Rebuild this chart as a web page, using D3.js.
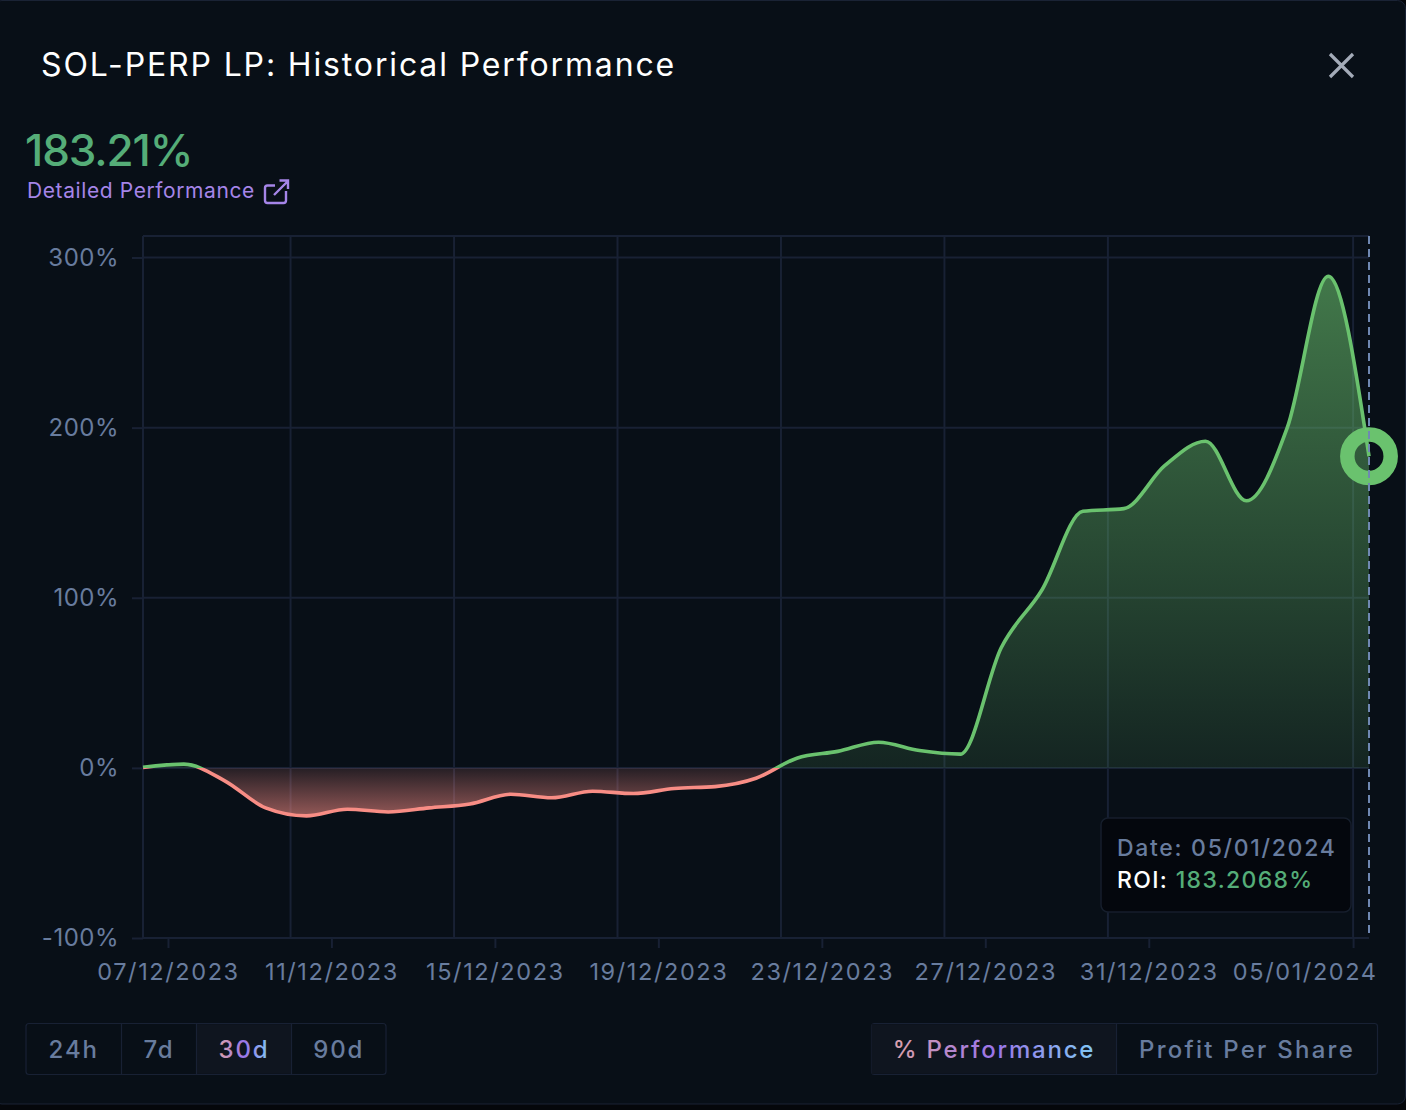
<!DOCTYPE html>
<html>
<head>
<meta charset="utf-8">
<script src="https://cdn.jsdelivr.net/npm/d3@7"></script>
<style>
  html, body { margin: 0; padding: 0; background: #05070b; }
  svg { display: block; }
  text { font-family: Inter, "Noto Sans", sans-serif; }
</style>
</head>
<body>
<div id="chart"></div>
<script>
var days = ["2023-12-06","2023-12-07","2023-12-08","2023-12-09","2023-12-10","2023-12-11","2023-12-12",
  "2023-12-13","2023-12-14","2023-12-15","2023-12-16","2023-12-17","2023-12-18","2023-12-19","2023-12-20",
  "2023-12-21","2023-12-22","2023-12-23","2023-12-24","2023-12-25","2023-12-26","2023-12-27","2023-12-28",
  "2023-12-29","2023-12-30","2023-12-31","2024-01-01","2024-01-02","2024-01-03","2024-01-04","2024-01-05"];
var roi = [0.3, 2.2, -7.6, -23.5, -28.2, -24.3, -25.9, -23.5, -21.2, -15.5, -17.6, -13.7, -15.1, -12.1, -11,
  -6.1, 5.7, 9.7, 15.1, 10.2, 8.1, 70.6, 104.7, 150.8, 152.4, 177.6, 192, 157, 200, 289, 183.2068];
var tickDays = ["2023-12-07","2023-12-11","2023-12-15","2023-12-19","2023-12-23","2023-12-27","2023-12-31","2024-01-05"];
var gridDays = ["2023-12-10","2023-12-14","2023-12-18","2023-12-22","2023-12-26","2023-12-30","2024-01-05"];
var yTicks = [-100, 0, 100, 200, 300];
var rangeButtons = ["24h", "7d", "30d", "90d"];
var modeButtons = ["% Performance", "Profit Per Share"];

var W = 1406, H = 1110;
var left = 143, right = 1369, top_ = 236, bottom = 938;
var parseDay = d3.timeParse("%Y-%m-%d");
var parseStamp = d3.timeParse("%Y-%m-%d %H:%M");
var fmt = d3.timeFormat("%d/%m/%Y");

var dataPoints = days.map(function (d, i) {
  return { t: parseStamp(d + " 09:20"), v: roi[i] };
});

var x = d3.scaleTime()
  .domain([dataPoints[0].t, dataPoints[dataPoints.length - 1].t])
  .range([left, right]);
var y = d3.scaleLinear().domain([-100, 300]).range([bottom, 257.5]);

var gridColor = "#182134", tickColor = "#687c9e";

var svg = d3.select("#chart").append("svg").attr("width", W).attr("height", H);
var defs = svg.append("defs");

// panel
svg.append("rect").attr("x", -6).attr("y", 0.5).attr("width", W + 5.5).attr("height", 1103.5)
  .attr("rx", 8).attr("fill", "#080f17").attr("stroke", "#1a2335");

function addGradient(id, y1, y2, stops) {
  var g = defs.append("linearGradient").attr("id", id)
    .attr("gradientUnits", "userSpaceOnUse")
    .attr("x1", 0).attr("x2", 0).attr("y1", y1).attr("y2", y2);
  stops.forEach(function (s) {
    g.append("stop").attr("offset", s[0]).attr("stop-color", s[1]).attr("stop-opacity", s[2]);
  });
}
addGradient("greenFill", y(289), y(0), [[0, "#6cc46f", 0.58], [1, "#6cc46f", 0.12]]);
addGradient("redFill", y(0), y(-28.2), [[0, "#f88d85", 0.12], [1, "#f88d85", 0.58]]);
addGradient("lineStroke", y(300), y(-100), [[0, "#6ac26e", 1], [0.75, "#6ac26e", 1], [0.75, "#f88d85", 1], [1, "#f88d85", 1]]);

var textGrad = defs.append("linearGradient").attr("id", "textGrad");
textGrad.append("stop").attr("offset", 0).attr("stop-color", "#dca2aa");
textGrad.append("stop").attr("offset", 0.5).attr("stop-color", "#9a74e8");
textGrad.append("stop").attr("offset", 1).attr("stop-color", "#80c8f4");

// header
svg.append("text").attr("x", 41).attr("y", 75.5).attr("fill", "#fff")
  .attr("font-size", 32).attr("letter-spacing", 1.86).text("SOL-PERP LP: Historical Performance");
svg.append("path").attr("d", "M1330 54L1353 77M1353 54L1330 77")
  .attr("stroke", "#a3abb8").attr("stroke-width", 3.2).attr("fill", "none");
svg.append("text").attr("x", 25).attr("y", 166).attr("fill", "#55ad78")
  .attr("font-size", 44).attr("font-weight", 500).attr("letter-spacing", -1.1).text("183.21%");
svg.append("text").attr("x", 27).attr("y", 198).attr("fill", "#a585e8")
  .attr("font-size", 21).attr("letter-spacing", 0.6).text("Detailed Performance");
svg.append("path")
  .attr("d", "M286 191V200.5Q286 203 283.5 203H267.5Q265 203 265 200.5V188Q265 185.5 267.5 185.5H275M274 195L288 181M279.5 180.5H288V189")
  .attr("fill", "none").attr("stroke", "#a585e8").attr("stroke-width", 2.4);

// grid
var grid = svg.append("g").attr("stroke", gridColor).attr("stroke-width", 2);
grid.selectAll(".h").data(yTicks).join("line")
  .attr("x1", left).attr("x2", right)
  .attr("y1", function (d) { return y(d); }).attr("y2", function (d) { return y(d); });
grid.selectAll(".v").data(gridDays).join("line")
  .attr("x1", function (d) { return x(parseDay(d)); }).attr("x2", function (d) { return x(parseDay(d)); })
  .attr("y1", top_).attr("y2", bottom);
grid.append("line").attr("x1", left).attr("x2", right).attr("y1", top_).attr("y2", top_);
grid.append("line").attr("x1", left).attr("x2", left).attr("y1", top_).attr("y2", bottom);

// axes
var xAxis = d3.axisBottom(x)
  .tickValues(tickDays.map(parseDay))
  .tickFormat(fmt).tickSize(10).tickPadding(15);
var gx = svg.append("g").attr("transform", "translate(0," + bottom + ")").call(xAxis);
var yAxis = d3.axisLeft(y)
  .tickValues(yTicks)
  .tickFormat(function (d) { return d + "%"; }).tickSize(11).tickPadding(13);
var gy = svg.append("g").attr("transform", "translate(" + left + ",0)").call(yAxis);
[gx, gy].forEach(function (g) {
  g.select(".domain").remove();
  g.selectAll("line").attr("stroke", gridColor).attr("stroke-width", 2);
  g.selectAll("text").attr("fill", tickColor).attr("font-size", 24).attr("letter-spacing", 0.5)
    .attr("font-family", "Inter");
});
gx.selectAll("text").attr("font-size", 23.5).attr("letter-spacing", 1.6);
// last date label is pushed in so it stays in the panel
gx.selectAll(".tick:last-of-type text").attr("text-anchor", "end").attr("dx", 24);

// area + line
var curve = d3.curveMonotoneX;
var area = d3.area().curve(curve)
  .x(function (d) { return x(d.t); })
  .y0(y(0)).y1(function (d) { return y(d.v); });
var line = d3.line().curve(curve)
  .x(function (d) { return x(d.t); })
  .y(function (d) { return y(d.v); });

defs.append("clipPath").attr("id", "above").append("rect")
  .attr("x", left).attr("y", top_).attr("width", right - left).attr("height", y(0) - top_);
defs.append("clipPath").attr("id", "below").append("rect")
  .attr("x", left).attr("y", y(0)).attr("width", right - left).attr("height", bottom - y(0));

svg.append("path").datum(dataPoints).attr("d", area).attr("fill", "url(#greenFill)").attr("clip-path", "url(#above)");
svg.append("path").datum(dataPoints).attr("d", area).attr("fill", "url(#redFill)").attr("clip-path", "url(#below)");

svg.append("path").datum(dataPoints).attr("d", line).attr("fill", "none")
  .attr("stroke", "url(#lineStroke)").attr("stroke-width", 3.6);

var last = dataPoints[dataPoints.length - 1];
svg.append("circle").attr("cx", x(last.t)).attr("cy", y(last.v)).attr("r", 21.7)
  .attr("fill", "none").attr("stroke", "#6ac26e").attr("stroke-width", 14.5);

// cursor
svg.append("line").attr("x1", right).attr("x2", right).attr("y1", top_).attr("y2", bottom)
  .attr("stroke", "#6f88b2").attr("stroke-width", 2).attr("stroke-dasharray", "8 5");

// tooltip
svg.append("rect").attr("x", 1101).attr("y", 818).attr("width", 250).attr("height", 94).attr("rx", 7)
  .attr("fill", "#04070d").attr("stroke", "#161e2c").attr("stroke-width", 1.5);
svg.append("text").attr("x", 1117).attr("y", 856).attr("fill", tickColor)
  .attr("font-size", 23).attr("font-weight", 500).attr("letter-spacing", 1.7)
  .text("Date: " + fmt(parseDay(days[days.length - 1])));
var roiText = svg.append("text").attr("x", 1117).attr("y", 888)
  .attr("font-size", 23).attr("font-weight", 500).attr("letter-spacing", 1.35);
roiText.append("tspan").attr("fill", "#fff").text("ROI: ");
roiText.append("tspan").attr("fill", "#55ad78").text(last.v.toFixed(4) + "%");

// button bars
function buttonBar(labels, edges, activeIdx, yTop, hgt, spacing) {
  var g = svg.append("g");
  g.append("rect").attr("x", edges[0]).attr("y", yTop).attr("width", edges[edges.length - 1] - edges[0])
    .attr("height", hgt).attr("rx", 3).attr("fill", "#080f17").attr("stroke", gridColor).attr("stroke-width", 1.2);
  labels.forEach(function (label, i) {
    var cx = (edges[i] + edges[i + 1]) / 2;
    if (i === activeIdx) {
      g.append("rect").attr("x", edges[i]).attr("y", yTop + 0.6)
        .attr("width", edges[i + 1] - edges[i]).attr("height", hgt - 1.2).attr("fill", "#0f151f");
    }
    if (i > 0) {
      g.append("line").attr("x1", edges[i]).attr("x2", edges[i]).attr("y1", yTop).attr("y2", yTop + hgt)
        .attr("stroke", gridColor).attr("stroke-width", 1.2);
    }
    g.append("text").attr("x", cx).attr("y", yTop + 34.5).attr("text-anchor", "middle")
      .attr("font-size", 24).attr("font-weight", 500).attr("letter-spacing", spacing[i])
      .attr("fill", i === activeIdx ? "url(#textGrad)" : tickColor).text(label);
  });
}
buttonBar(rangeButtons, [26, 121.5, 196.5, 291.5, 386], 2, 1023.5, 51, [1.9, 1.9, 1.9, 1.9]);
buttonBar(modeButtons, [871.5, 1116.5, 1377.5], 0, 1023.5, 51, [1.8, 2.25]);
</script>
</body>
</html>
